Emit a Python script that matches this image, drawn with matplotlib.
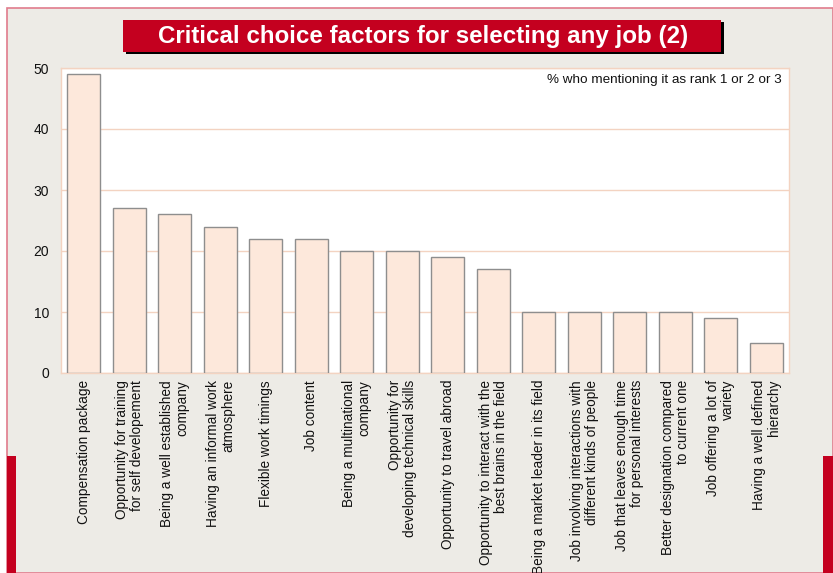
import matplotlib
matplotlib.use("Agg")
import matplotlib.pyplot as plt
from matplotlib.patches import Rectangle

categories = [
    "Compensation package",
    "Opportunity for training\nfor self developement",
    "Being a well established\ncompany",
    "Having an informal work\natmosphere",
    "Flexible work timings",
    "Job content",
    "Being a multinational\ncompany",
    "Opportunity for\ndeveloping technical skills",
    "Opportunity to travel abroad",
    "Opportunity to interact with the\nbest brains in the field",
    "Being a market leader in its field",
    "Job involving interactions with\ndifferent kinds of people",
    "Job that leaves enough time\nfor personal interests",
    "Better designation compared\nto current one",
    "Job offering a lot of\nvariety",
    "Having a well defined\nhierarchy",
]
values = [49, 27, 26, 24, 22, 22, 20, 20, 19, 17, 10, 10, 10, 10, 9, 5]
yticks = [0, 10, 20, 30, 40, 50]

W, H = 833, 573
SANS = ["Liberation Sans", "DejaVu Sans"]
BG = "#EDEBE6"
PEACH = "#F3D3C1"
RED = "#C4001F"

fig = plt.figure(figsize=(W / 100, H / 100), dpi=100, facecolor="white")


def px(x, y, w, h):
    # pixel box (top-left origin) -> figure fraction rectangle
    return (x / W, 1 - (y + h) / H, w / W, h / H)


def frect(x, y, w, h, z=-5, **kw):
    x0, y0, ww, hh = px(x, y, w, h)
    fig.add_artist(Rectangle((x0, y0), ww, hh, transform=fig.transFigure, zorder=z, **kw))


# panel background with pink frame and red side bars
frect(7, 8, 826, 565, z=-10, facecolor=BG, edgecolor="#E07C8C", linewidth=1.2)
frect(7, 456, 9, 117, facecolor=RED, edgecolor="none")
frect(823, 456, 10, 117, facecolor=RED, edgecolor="none")

# title banner with drop shadow
frect(126, 22, 598, 32, facecolor="black", edgecolor="none")
frect(123, 20, 598, 32, facecolor=RED, edgecolor="none")
fig.text((159 + 688) / 2 / W, 1 - 37 / H, "Critical choice factors for selecting any job (2)",
         ha="center", va="center", color="white", fontsize=17.4, fontweight="bold",
         family=SANS)

ax = fig.add_axes(px(61, 68, 728, 305))
ax.set_facecolor("white")
x = list(range(len(values)))
ax.bar(x, values, width=0.72, color="#FDE8DB", edgecolor="#8E8E8E", linewidth=1.0, zorder=3)
ax.set_xlim(-0.5, len(values) - 0.5)
ax.set_ylim(0, 50)
ax.set_yticks(yticks)
ax.set_yticklabels([str(v) for v in yticks], family=SANS, fontsize=10, color="#111111")
ax.yaxis.grid(True, color=PEACH, linewidth=1.0, zorder=0)
ax.tick_params(axis="y", length=0, pad=8.5)
ax.tick_params(axis="x", length=0, pad=5)
ax.set_xticks(x)
ax.set_xticklabels(categories, rotation=90, ha="center", va="top",
                   multialignment="right", family=SANS, fontsize=9.8,
                   linespacing=1.12, color="#111111")
for s in ax.spines.values():
    s.set_color(PEACH)
    s.set_linewidth(1.0)

ax.text(0.99, 0.961, "% who mentioning it as rank 1 or 2 or 3", transform=ax.transAxes,
        ha="right", va="center", family=SANS, fontsize=9.7, color="#111111")

fig.savefig("out.png", dpi=100, facecolor="white")
